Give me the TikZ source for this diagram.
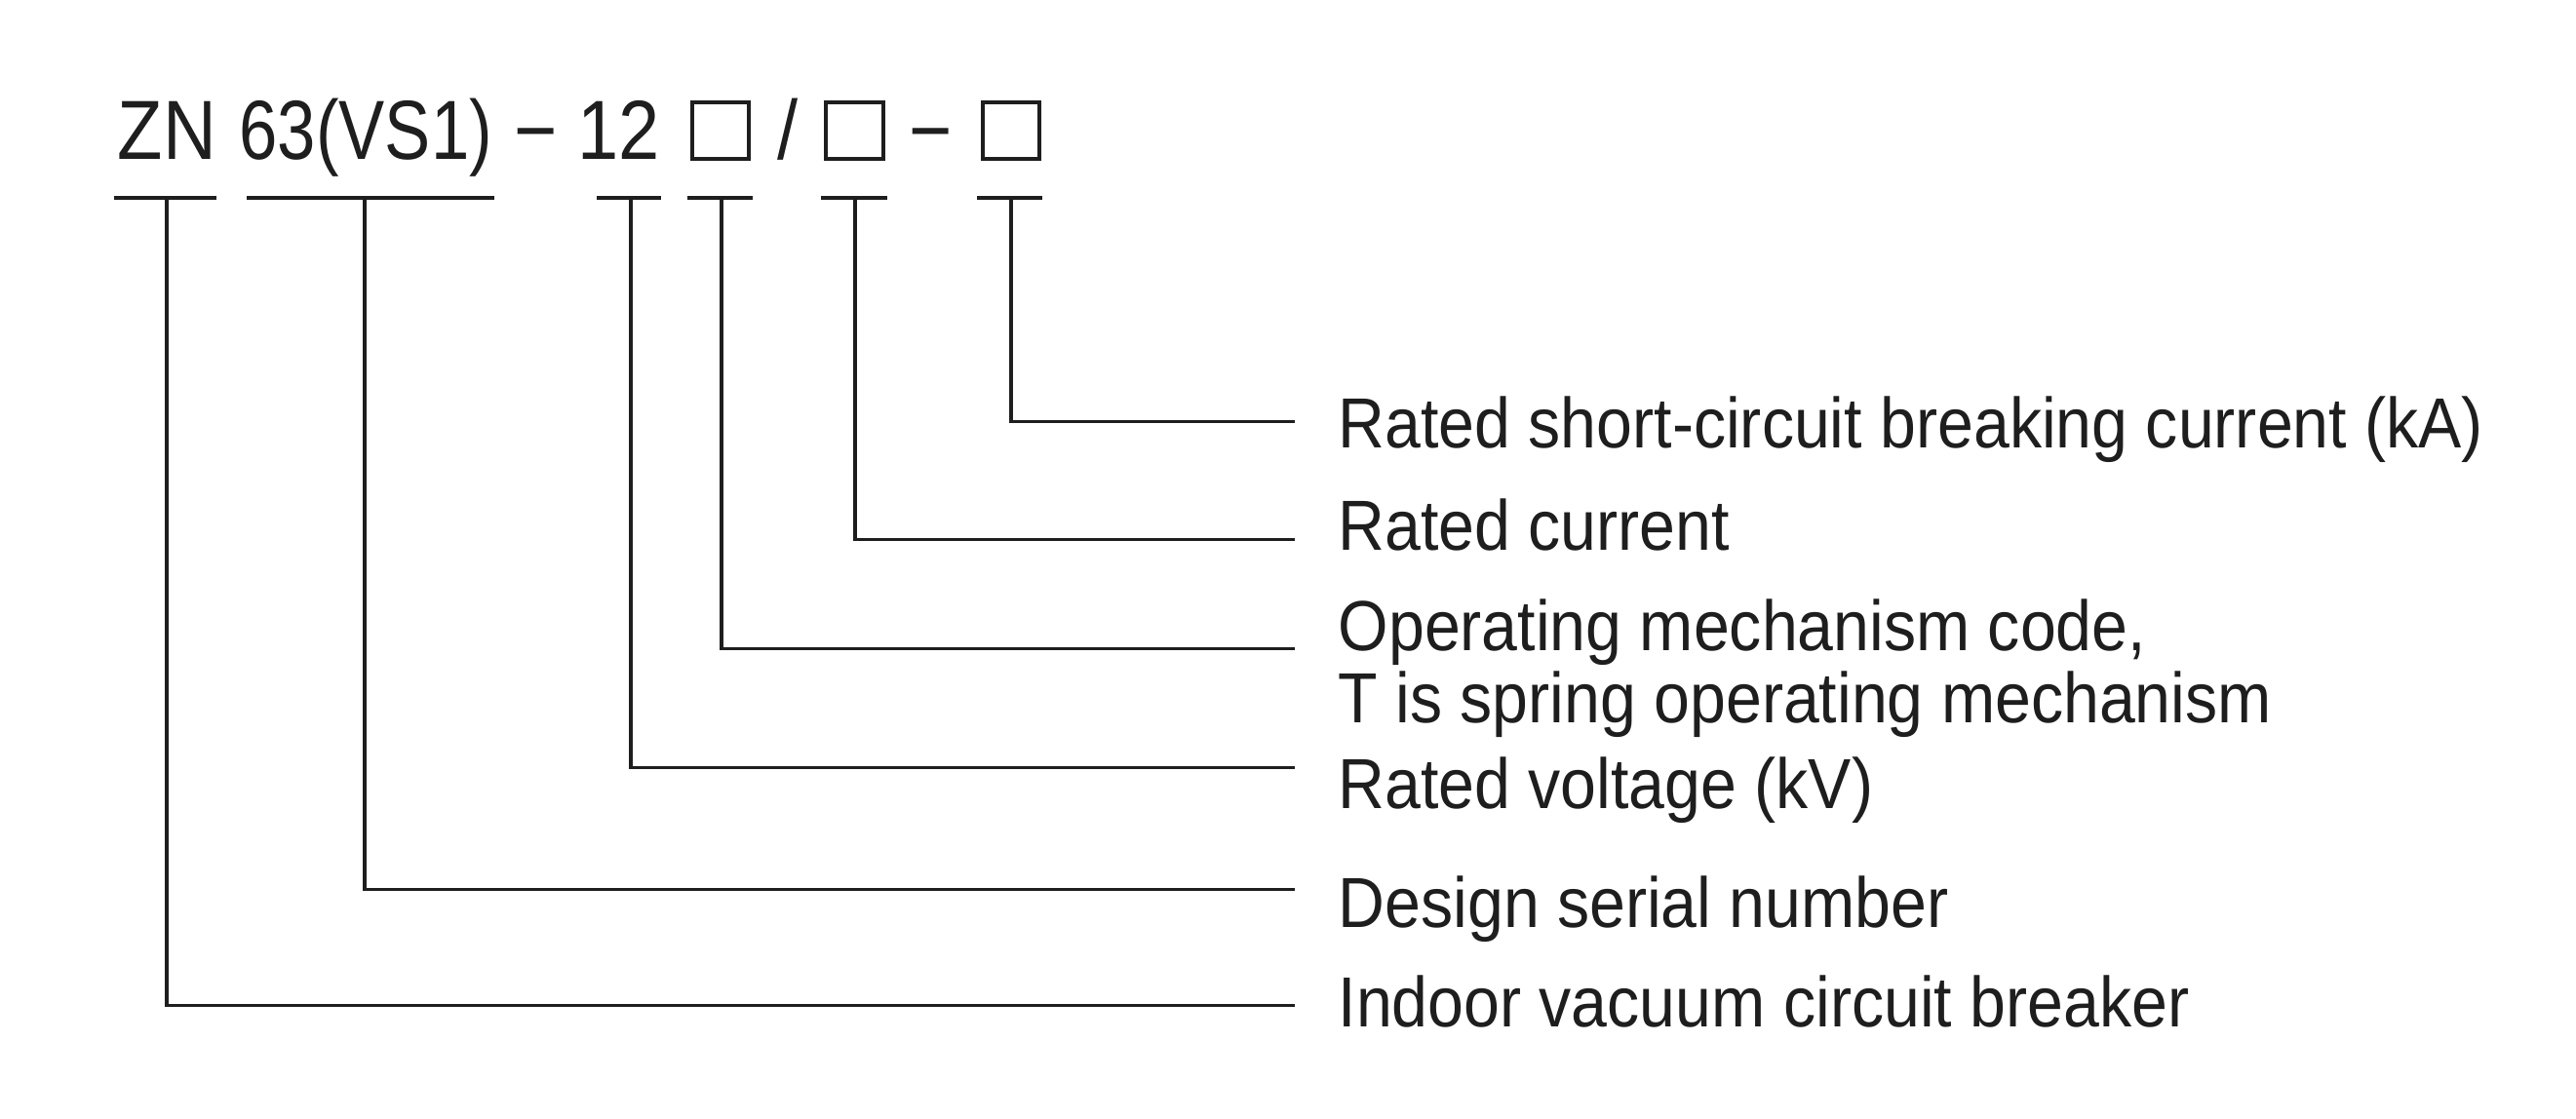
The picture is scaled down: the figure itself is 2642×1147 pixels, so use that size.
\documentclass[tikz,border=0pt]{standalone}
\usepackage{fontspec}
\setmainfont{Liberation Sans}
\newfontfamily\codefont{Liberation Sans}[FakeStretch=0.88]
\newfontfamily\serialfont{Liberation Sans}[FakeStretch=0.82]
\newfontfamily\descfont{Liberation Sans}[FakeStretch=0.91]
\definecolor{ink}{HTML}{1E1E1E}
\tikzset{
	part/.style={font=\codefont\fontsize{24.5}{29}\selectfont, text=ink, inner sep=0pt},
	desc/.style={font=\descfont\fontsize{20.7}{20.9}\selectfont, text=ink, inner sep=0pt, anchor=base west, align=left},
	blank/.style={draw=ink, line width=1.14pt, minimum size=0.58cm, inner sep=0pt},
	bar/.style={draw=ink, line width=1.14pt},
	lead/.style={draw=ink, line width=0.95pt},
}
\begin{document}
\begin{tikzpicture}[x=0.01cm, y=-0.01cm]
	\useasboundingbox (0,0) rectangle (2642,1147);
	\node[part, anchor=base west] (zn) at (120,163.3) {ZN};
	\node[part, anchor=base west, font=\serialfont\fontsize{24.5}{29}\selectfont] (vs) at (245,163.3) {63(VS1)};
	\node[part, anchor=base] (m1) at (550,163.3) {−};
	\node[part, anchor=base west] (kv) at (591.5,163.3) {12};
	\node[blank] (b1) at (739,134) {};
	\node[part, anchor=base] (sl) at (808.5,163.3) {/};
	\node[blank] (b2) at (876.5,134) {};
	\node[part, anchor=base] (m2) at (955,163.3) {−};
	\node[blank] (b3) at (1037,134) {};
	\draw[bar] (117,203.3) -- (222,203.3);
	\draw[bar] (253,203.3) -- (507,203.3);
	\draw[bar] (612,203.3) -- (678,203.3);
	\draw[bar] (705,203.3) -- (772,203.3);
	\draw[bar] (842,203.3) -- (910,203.3);
	\draw[bar] (1002,203.3) -- (1069,203.3);
	\coordinate (u1) at (171,203.3);
	\coordinate (u2) at (374,203.3);
	\coordinate (u3) at (647,203.3);
	\coordinate (u4) at (740,203.3);
	\coordinate (u5) at (877,203.3);
	\coordinate (u6) at (1037,203.3);
	\node[desc] (d1) at (1372,459.3) {Rated short-circuit breaking current (kA)};
	\node[desc] (d2) at (1372,564.3) {Rated current};
	\node[desc] (d3) at (1372,741) {Operating mechanism code,\\T is spring operating mechanism};
	\node[desc] (d4) at (1372,829.3) {Rated voltage (kV)};
	\node[desc] (d5) at (1372,951) {Design serial number};
	\node[desc] (d6) at (1372,1053.3) {Indoor vacuum circuit breaker};
	\coordinate (e1) at (1328,432.7);
	\coordinate (e2) at (1328,553.3);
	\coordinate (e3) at (1328,665.7);
	\coordinate (e4) at (1328,787.5);
	\coordinate (e5) at (1328,912.3);
	\coordinate (e6) at (1328,1031.7);
	\draw[lead] (u6) |- (e1);
	\draw[lead] (u5) |- (e2);
	\draw[lead] (u4) |- (e3);
	\draw[lead] (u3) |- (e4);
	\draw[lead] (u2) |- (e5);
	\draw[lead] (u1) |- (e6);
\end{tikzpicture}
\end{document}
